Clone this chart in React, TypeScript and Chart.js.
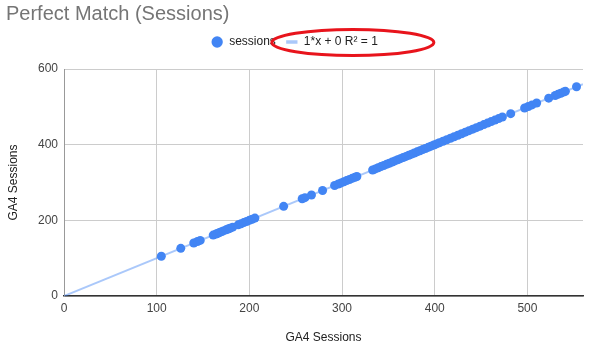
import React, { useEffect, useRef } from "react";
import { Chart, registerables } from "chart.js";

Chart.register(...registerables);

const chartTitle = "Perfect Match (Sessions)";
const seriesLabel = "sessions";
const trendLabel = "1*x + 0 R² = 1";
const xAxisTitle = "GA4 Sessions";
const yAxisTitle = "GA4 Sessions";

// GA4 sessions (x) vs GA4 sessions (y)
const ga4X = [
  105, 126, 140, 144, 147, 161, 164, 166, 168, 170, 172, 175, 177, 179, 182,
  188, 191, 194, 197, 200, 203, 206, 237, 257, 260, 267, 279, 292, 296, 299,
  302, 305, 308, 311, 314, 316, 333, 336, 339, 342, 345, 348, 351, 354, 357,
  360, 363, 366, 369, 372, 375, 378, 381, 384, 387, 390, 393, 396, 399, 402,
  405, 409, 413, 417, 421, 425, 429, 433, 437, 441, 445, 449, 453, 457, 461,
  465, 469, 473, 482, 497, 501, 505, 510, 523, 530, 533, 536, 539, 541, 553,
];
const ga4Y = [
  105, 126, 140, 144, 147, 161, 164, 166, 168, 170, 172, 175, 177, 179, 182,
  188, 191, 194, 197, 200, 203, 206, 237, 257, 260, 267, 279, 292, 296, 299,
  302, 305, 308, 311, 314, 316, 333, 336, 339, 342, 345, 348, 351, 354, 357,
  360, 363, 366, 369, 372, 375, 378, 381, 384, 387, 390, 393, 396, 399, 402,
  405, 409, 413, 417, 421, 425, 429, 433, 437, 441, 445, 449, 453, 457, 461,
  465, 469, 473, 482, 497, 501, 505, 510, 523, 530, 533, 536, 539, 541, 553,
];
// trendline y = 1*x + 0 endpoints
const trendX = [0, 560];
const trendY = [0, 560];

const xMin = 0;
const xMax = 560;
const xStep = 100;
const yMin = 0;
const yMax = 600;
const yStep = 200;

const FONT = 'Arial, "Liberation Sans", sans-serif';

export default function App() {
  const ref = useRef<HTMLCanvasElement | null>(null);

  useEffect(() => {
    if (!ref.current) return;
    Chart.defaults.font.family = FONT;

    const legendSpacer = {
      id: "legendSpacer",
      beforeInit(chart: any) {
        const orig = chart.legend.fit;
        chart.legend.fit = function () {
          orig.call(this);
          this.height += 11;
        };
      },
    };

    const ellipsePlugin = {
      id: "ellipseMark",
      afterDraw(chart: any) {
        const boxes = chart.legend && chart.legend.legendHitBoxes;
        if (!boxes || !boxes[1]) return;
        const b = boxes[1];
        const left = b.left - 14;
        const right = b.left + b.width + 56;
        const cy = b.top + b.height / 2 + 0.5;
        const ctx = chart.ctx;
        ctx.save();
        ctx.beginPath();
        ctx.ellipse((left + right) / 2, cy, (right - left) / 2, 13, 0, 0, Math.PI * 2);
        ctx.strokeStyle = "#e8141c";
        ctx.lineWidth = 3;
        ctx.stroke();
        ctx.restore();
      },
    };

    const chart = new Chart(ref.current, {
      type: "scatter",
      data: {
        datasets: [
          {
            label: seriesLabel,
            data: ga4X.map((x, i) => ({ x, y: ga4Y[i] })),
            backgroundColor: "#4285f4",
            borderColor: "#4285f4",
            pointBackgroundColor: "#4285f4",
            pointBorderWidth: 0,
            pointRadius: 4.5,
            pointStyle: "circle",
          },
          {
            type: "line",
            label: trendLabel,
            data: trendX.map((x, i) => ({ x, y: trendY[i] })),
            borderColor: "rgba(66,133,244,0.45)",
            backgroundColor: "rgba(66,133,244,0.45)",
            borderWidth: 2,
            pointRadius: 0,
            pointStyle: "line",
            showLine: true,
            fill: false,
          },
        ],
      },
      options: {
        responsive: false,
        animation: false,
        layout: { padding: { left: 6, right: 17, top: 0, bottom: 0 } },
        plugins: {
          tooltip: { enabled: false },
          title: {
            display: true,
            text: chartTitle,
            align: "start",
            color: "#757575",
            font: { size: 20, weight: "normal", family: FONT },
            padding: { top: 2, bottom: 0 },
          },
          legend: {
            display: true,
            position: "top",
            align: "center",
            labels: {
              usePointStyle: true,
              boxHeight: 8,
              padding: 10,
              color: "#222",
              font: { size: 12, family: FONT },
              generateLabels: (c: any) => {
                const items = (Chart.defaults.plugins.legend.labels as any).generateLabels(c);
                items[0].fillStyle = "#4285f4";
                items[0].strokeStyle = "#4285f4";
                items[0].lineWidth = 0;
                items[0].pointStyle = "circle";
                items[1].fillStyle = "rgba(66,133,244,0.45)";
                items[1].strokeStyle = "rgba(66,133,244,0.45)";
                items[1].lineWidth = 3.5;
                items[1].pointStyle = "line";
                return items;
              },
            },
          },
        },
        scales: {
          x: {
            type: "linear",
            position: "bottom",
            min: xMin,
            max: xMax,
            afterBuildTicks: (s: any) => {
              s.ticks = s.ticks.filter((t: any) => t.value % xStep === 0);
            },
            afterFit: (s: any) => {
              s.height = 58;
            },
            ticks: {
              stepSize: xStep,
              padding: 5,
              color: "#444",
              font: { size: 12, family: FONT },
              maxRotation: 0,
            },
            grid: { color: "#cccccc", lineWidth: 1, drawTicks: false },
            border: { color: "#333", width: 1.5 },
            title: {
              display: true,
              text: xAxisTitle,
              color: "#222",
              font: { size: 12, family: FONT },
              padding: { top: 0, bottom: 9 },
            },
          },
          y: {
            type: "linear",
            min: yMin,
            max: yMax,
            afterFit: (s: any) => {
              s.width = 58;
            },
            ticks: {
              stepSize: yStep,
              padding: 6,
              color: "#444",
              font: { size: 12, family: FONT },
            },
            grid: { color: "#cccccc", lineWidth: 1, drawTicks: false },
            border: { color: "#999", width: 1 },
            title: {
              display: true,
              text: yAxisTitle,
              color: "#222",
              font: { size: 12, family: FONT },
              padding: { top: 0, bottom: 0 },
            },
          },
        },
      } as any,
      plugins: [legendSpacer, ellipsePlugin],
    });

    return () => chart.destroy();
  }, []);

  return (
    <div style={{ position: "absolute", left: 0, top: 0, width: 600, height: 354, background: "#fff" }}>
      <canvas ref={ref} width={600} height={354} />
    </div>
  );
}
